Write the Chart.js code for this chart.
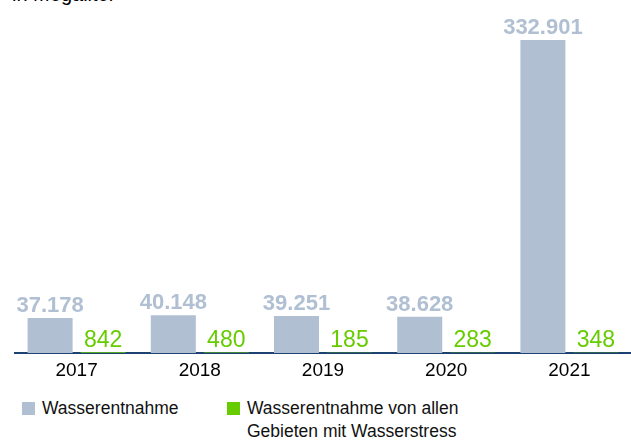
<!DOCTYPE html>
<html>
<head>
<meta charset="utf-8">
<script src="https://cdn.jsdelivr.net/npm/chart.js@4"></script>
<style>
  body { margin: 0; background: #fff; font-family: "Liberation Sans", Arial, sans-serif; }
  #wrap { position: relative; width: 631px; height: 442px; overflow: hidden; }
  #title { position: absolute; left: 12px; top: -17px; font-size: 20px; color: #000; }
  #chart { position: absolute; left: 0; top: 0; }
  .leg { position: absolute; font-size: 17.5px; color: #111; line-height: 23px; }
  .leg span { position: absolute; left: -20px; top: 5px; width: 13px; height: 13px; }
</style>
</head>
<body>
<div id="wrap">
  <div id="title">in Megaliter</div>
  <canvas id="chart" width="631" height="380"></canvas>
  <div class="leg" style="left:42px; top:397px;"><span style="background:#b0c0d2"></span>Wasserentnahme</div>
  <div class="leg" style="left:247px; top:397px;"><span style="background:#66cc00"></span>Wasserentnahme von allen<br>Gebieten mit Wasserstress</div>
</div>
<script>
// Daten
const jahre = ['2017', '2018', '2019', '2020', '2021'];
const wasserentnahme = [37178, 40148, 39251, 38628, 332901];
const wasserstress = [842, 480, 185, 283, 348];

const grau = '#b0c0d2';
const gruen = '#66cc00';

function fmt(v) {
  return v.toLocaleString('de-DE');
}

// Werte über die Balken schreiben
const wertePlugin = {
  id: 'werte',
  afterDatasetsDraw(chart) {
    const ctx = chart.ctx;
    const unten = chart.chartArea.bottom;
    ctx.save();
    ctx.textAlign = 'center';
    ctx.textBaseline = 'alphabetic';
    chart.getDatasetMeta(0).data.forEach((bar, i) => {
      ctx.font = 'bold 22px "Liberation Sans", Arial, sans-serif';
      ctx.fillStyle = grau;
      ctx.fillText(fmt(wasserentnahme[i]), bar.x, bar.y - 6);
    });
    chart.getDatasetMeta(1).data.forEach((bar, i) => {
      ctx.font = '23px "Liberation Sans", Arial, sans-serif';
      ctx.fillStyle = gruen;
      ctx.fillText(fmt(wasserstress[i]), bar.x, unten - 6);
    });
    ctx.restore();
  }
};

const chart = new Chart(document.getElementById('chart'), {
  type: 'bar',
  data: {
    labels: jahre,
    datasets: [
      { label: 'Wasserentnahme', data: wasserentnahme, backgroundColor: grau },
      { label: 'Wasserentnahme von allen Gebieten mit Wasserstress', data: wasserstress, backgroundColor: gruen }
    ]
  },
  options: {
    responsive: false,
    animation: false,
    layout: { padding: { left: 15, right: 0, top: 40, bottom: 0 } },
    plugins: { legend: { display: false }, tooltip: { enabled: false } },
    datasets: { bar: { categoryPercentage: 0.86, barPercentage: 0.85 } },
    scales: {
      x: {
        grid: { display: false },
        border: { color: '#1d4170', width: 2 },
        ticks: { color: '#000', font: { size: 19, lineHeight: 1, family: '"Liberation Sans", Arial, sans-serif' }, padding: 0 }
      },
      y: { display: false, min: 0, max: 332901 }
    }
  },
  plugins: [wertePlugin]
});
</script>
</body>
</html>
